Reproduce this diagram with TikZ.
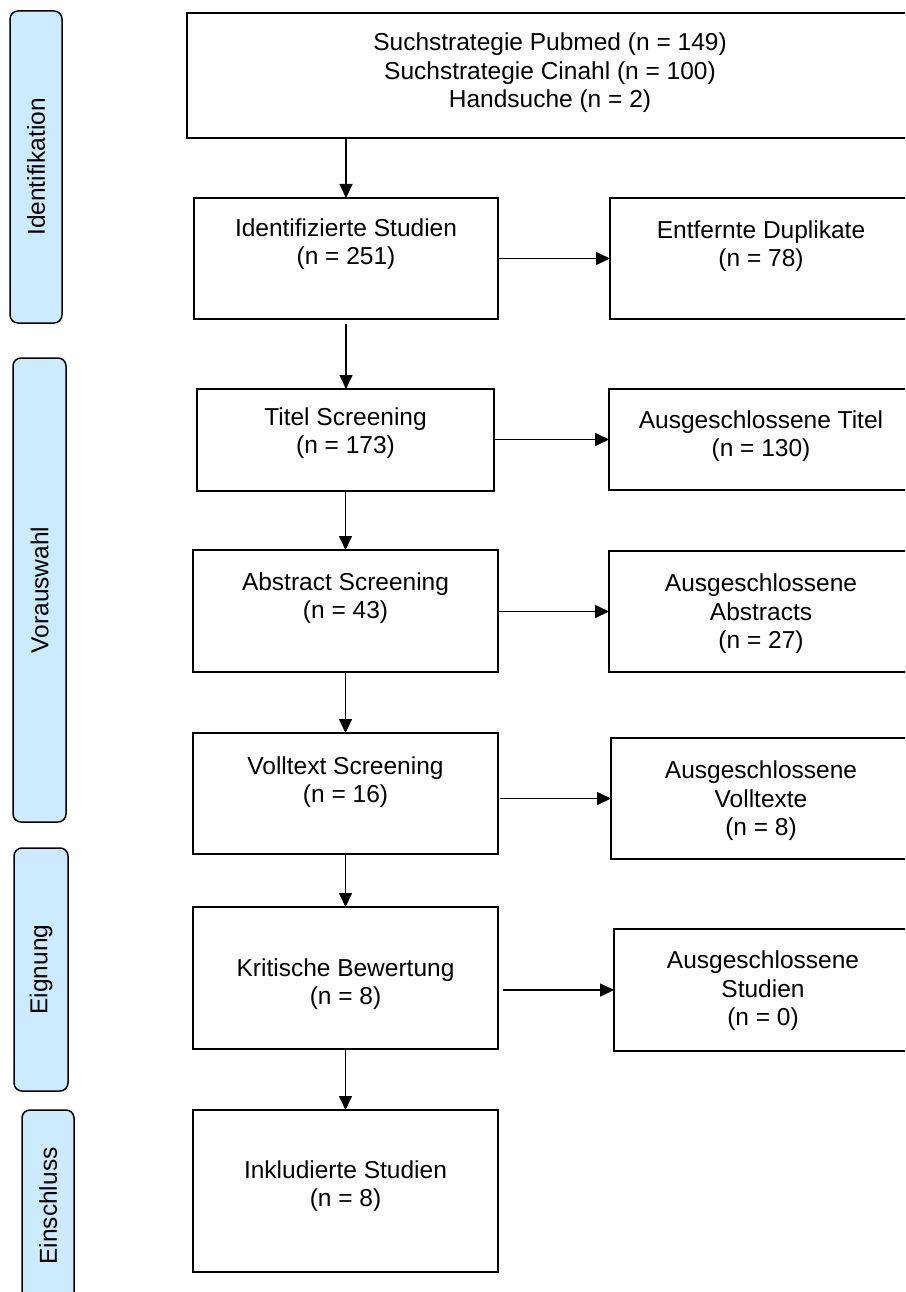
\documentclass[tikz,border=0pt]{standalone}
\usepackage{fontspec}
\setmainfont{Liberation Sans}
\usetikzlibrary{arrows.meta,calc}
\definecolor{phasefill}{RGB}{204,235,255}
\begin{document}
\begin{tikzpicture}[x=1pt,y=-1pt,
  box/.style={draw=black, line width=1.5pt, rectangle, inner sep=0pt, outer sep=0pt},
  txt/.style={align=center, font=\fontsize{24.5}{28.5}\selectfont, inner sep=0pt},
  phase/.style={draw=black, line width=1.5pt, fill=phasefill, rounded corners=8pt, rotate=90,
    inner sep=0pt, outer sep=0pt, font=\fontsize{24.5}{28.5}\selectfont},
  arr/.style={line width=1.6pt, -{Triangle[length=14pt,width=13pt]}}]
\useasboundingbox (0,0) rectangle (905,1292);
\clip (0,0) rectangle (905,1292);
\fill[white] (0,0) rectangle (905,1292);

% phase bars
\node[phase, minimum width=312pt, minimum height=52pt] (p1) at (36,167) {Identifikation};
\node[phase, minimum width=464pt, minimum height=53pt] (p2) at (39.5,590) {Vorauswahl};
\node[phase, minimum width=243pt, minimum height=54pt] (p3) at (41,969.5) {Eignung};
\node[phase, minimum width=192pt, minimum height=52pt] (p4) at (48,1206) {Einschluss};

% boxes
\node[box, minimum width=726pt, minimum height=125pt] (top) at (550,75.5) {};
\node[box, minimum width=304pt, minimum height=121pt] (ident) at (346,258.5) {};
\node[box, minimum width=302pt, minimum height=121pt] (dup) at (761,258.5) {};
\node[box, minimum width=297pt, minimum height=102pt] (titel) at (345.5,440) {};
\node[box, minimum width=303pt, minimum height=101pt] (extitel) at (760.5,439.5) {};
\node[box, minimum width=305pt, minimum height=122pt] (abstr) at (345.5,611) {};
\node[box, minimum width=303pt, minimum height=121pt] (exabs) at (760.5,611.5) {};
\node[box, minimum width=305pt, minimum height=121pt] (voll) at (345.5,793.5) {};
\node[box, minimum width=301pt, minimum height=121pt] (exvoll) at (761.5,798.5) {};
\node[box, minimum width=305pt, minimum height=142pt] (krit) at (345.5,978) {};
\node[box, minimum width=298pt, minimum height=122pt] (exstud) at (763,990) {};
\node[box, minimum width=305pt, minimum height=162pt] (inkl) at (345.5,1191) {};

% texts
\node[txt] (ttop) at (550,73) {Suchstrategie Pubmed (n = 149)\\Suchstrategie Cinahl (n = 100)\\Handsuche (n = 2)};
\node[txt] (tident) at (346,244) {Identifizierte Studien\\(n = 251)};
\node[txt] (tdup) at (761,246) {Entfernte Duplikate\\(n = 78)};
\node[txt] (ttitel) at (345.5,433) {Titel Screening\\(n = 173)};
\node[txt] (textitel) at (761,436) {Ausgeschlossene Titel\\(n = 130)};
\node[txt] (tabstr) at (345.5,598) {Abstract Screening\\(n = 43)};
\node[txt] (texabs) at (761,614) {Ausgeschlossene\\Abstracts\\(n = 27)};
\node[txt] (tvoll) at (345.5,782) {Volltext Screening\\(n = 16)};
\node[txt] (texvoll) at (761,801) {Ausgeschlossene\\Volltexte\\(n = 8)};
\node[txt] (tkrit) at (345.5,984) {Kritische Bewertung\\(n = 8)};
\node[txt] (texstud) at (763,991) {Ausgeschlossene\\Studien\\(n = 0)};
\node[txt] (tinkl) at (345.5,1186) {Inkludierte Studien\\(n = 8)};

% vertical arrows
\draw[arr] (ident.north |- top.south) -- (ident.north);
\draw[arr, shorten <=5pt] (ident.south) -- (ident.south |- titel.north);
\draw[arr] (titel.south) -- (titel.south |- abstr.north);
\draw[arr] (abstr.south) -- (voll.north);
\draw[arr] (voll.south) -- (krit.north);
\draw[arr] (krit.south) -- (inkl.north);

% horizontal arrows
\draw[arr] (ident.east |- dup.west) -- (dup.west);
\draw[arr] (titel.east |- extitel.west) -- (extitel.west);
\draw[arr] (abstr.east |- exabs.west) -- (exabs.west);
\draw[arr, shorten <=2pt] (voll.east |- exvoll.west) -- (exvoll.west);
\draw[arr, shorten <=5pt] (krit.east |- exstud.west) -- (exstud.west);
\end{tikzpicture}
\end{document}
